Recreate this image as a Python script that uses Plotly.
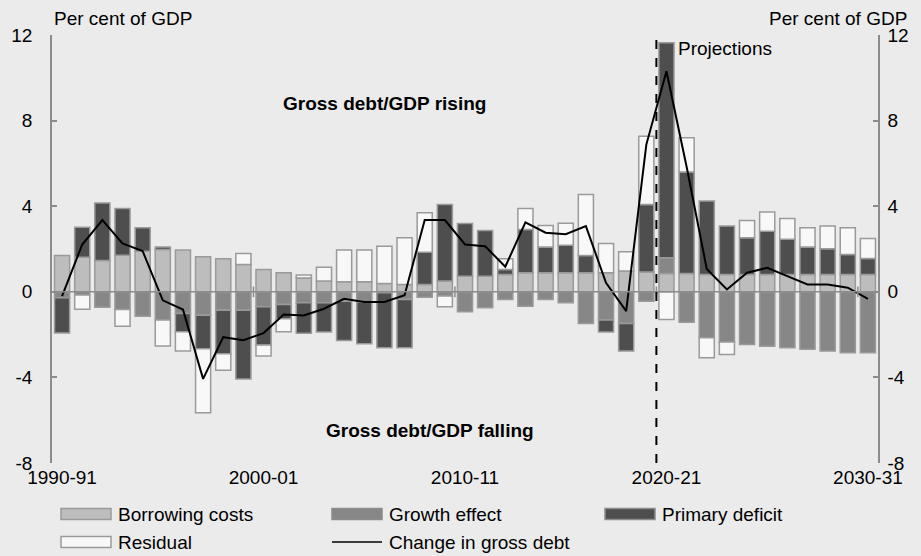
import plotly.graph_objects as go

# financial years 1990-91 .. 2030-31
years = [f"{y}-{str(y + 1)[-2:]}" for y in range(1990, 2031)]
tick_years = ["1990-91", "2000-01", "2010-11", "2020-21", "2030-31"]
first_projection = "2020-21"
y_ticks = [-8, -4, 0, 4, 8, 12]

# per cent of GDP
borrowing = [1.70, 1.62, 1.46, 1.71, 1.90, 1.98, 1.95, 1.64, 1.54, 1.28,
             1.04, 0.89, 0.65, 0.50, 0.47, 0.47, 0.39, 0.34, 0.34, 0.50,
             0.73, 0.73, 0.81, 0.89, 0.89, 0.89, 0.89, 0.89, 0.97, 0.93,
             0.86, 0.86, 0.81, 0.81, 0.81, 0.81, 0.81, 0.81, 0.81, 0.81, 0.81]
growth = [-0.28, -0.15, -0.72, -0.83, -1.14, -1.32, -1.01, -1.09, -0.86, -0.86,
          -0.70, -0.59, -0.51, -0.51, -0.44, -0.48, -0.05, -0.36, -0.25, -0.20,
          -0.93, -0.75, -0.36, -0.67, -0.36, -0.51, -1.48, -1.32, -1.48, -0.44,
          0.73, -1.42, -2.15, -2.35, -2.46, -2.54, -2.62, -2.69, -2.77, -2.85, -2.85]
primary = [-1.64, 1.40, 2.69, 2.18, 1.09, 0.11, -0.86, -1.57, -2.03, -3.21,
           -1.79, -0.67, -1.43, -1.37, -1.84, -1.95, -2.57, -2.26, 1.51, 3.58,
           2.46, 2.13, 0.23, 2.02, 1.20, 1.28, 0.81, -0.56, -1.29, 3.15,
           10.05, 4.74, 3.43, 2.26, 1.71, 2.02, 1.64, 1.28, 1.20, 0.93, 0.75]
residual = [None, -0.67, None, -0.78, None, -1.21, -0.90, -2.99, -0.78, 0.51,
            -0.51, -0.61, 0.14, 0.65, 1.48, 1.48, 1.74, 2.18, 1.84, -0.50,
            None, None, 0.51, 0.98, 1.01, 1.03, 2.85, 1.37, 0.90, 3.19,
            -1.29, 1.60, -0.93, -0.58, 0.81, 0.90, 0.97, 0.90, 1.06, 1.25, 0.93]
change = [-0.20, 2.21, 3.35, 2.26, 1.90, -0.40, -0.83, -4.07, -2.12, -2.26,
          -1.93, -1.06, -1.11, -0.79, -0.33, -0.48, -0.48, -0.16, 3.35, 3.35,
          2.21, 2.13, 1.17, 3.25, 2.76, 2.69, 3.07, 0.42, -0.90, 6.88,
          10.31, 5.84, 1.07, 0.11, 0.89, 1.12, 0.73, 0.34, 0.34, 0.19, -0.33]

FONT = "Liberation Sans, Arial, sans-serif"
BG = "#ebebeb"
AXIS = "#8c8c8c"
EDGE = "#9a9a9a"

# plot area in pixels (used for legend / label placement)
L, R, T, B = 52, 878, 35, 463
def xp(px):
    return (px - L) / (R - L)
def yp(py):
    return (B - py) / (B - T)

series = [
    ("Borrowing costs", borrowing, "#bdbdbd"),
    ("Growth effect", growth, "#878787"),
    ("Primary deficit", primary, "#4e4e4e"),
    ("Residual", residual, "#f8f8f8"),
]

fig = go.Figure()
for name, vals, col in series:
    fig.add_trace(go.Bar(x=years, y=vals, name=name, marker_color=col,
                         marker_line=dict(color=EDGE, width=1.5)))

fig.add_trace(go.Scatter(x=years, y=change, name="Change in gross debt", mode="lines",
                         line=dict(color="black", width=2), yaxis="y2"))

n = len(years)
x_range = [-0.5, n - 0.5]
proj_x = years.index(first_projection) - 0.5
y_text = [str(v) for v in y_ticks]

yax = dict(range=[-8, 12], tickmode="array", tickvals=y_ticks, ticktext=y_text,
           showgrid=False, zeroline=False,
           showline=True, linecolor=AXIS, linewidth=1.5,
           ticks="inside", ticklen=5, tickcolor=AXIS, tickwidth=1.5)

fig.update_layout(
    width=921, height=556,
    margin=dict(l=L, r=921 - R, t=T, b=556 - B),
    paper_bgcolor=BG, plot_bgcolor=BG,
    barmode="relative", bargap=0.25,
    showlegend=False,
    font=dict(family=FONT, size=19, color="black"),
    xaxis=dict(type="category", range=x_range, showline=False, showgrid=False,
               zeroline=False, tickmode="array", tickvals=tick_years, ticks="",
               ticklabelstandoff=1),
    yaxis=dict(yax, ticklabelstandoff=14),
    yaxis2=dict(yax, overlaying="y", side="right", ticklabelstandoff=4),
)

# category axis drawn at zero, over the bars, with marks between decades
fig.add_shape(type="line", xref="paper", yref="y", x0=0, x1=1, y0=0, y1=0,
              layer="above", line=dict(color=AXIS, width=1.5))
for t in tick_years[1:]:
    xm = years.index(t) - 0.5
    fig.add_shape(type="line", xref="x", yref="y", x0=xm, x1=xm, y0=-0.25, y1=0.25,
                  layer="above", line=dict(color=AXIS, width=1.5))

# projections divider
fig.add_shape(type="line", xref="x", yref="paper", x0=proj_x, x1=proj_x, y0=0, y1=1,
              line=dict(color="black", width=2, dash="dash"))

ann = [
    dict(text="Per cent of GDP", x=xp(52), y=yp(18), xanchor="left"),
    dict(text="Per cent of GDP", x=xp(909), y=yp(18), xanchor="right"),
    dict(text="<b>Gross debt/GDP rising</b>", x=xp(384), y=yp(103), xanchor="center"),
    dict(text="<b>Gross debt/GDP falling</b>", x=xp(430), y=yp(430), xanchor="center"),
]
for a in ann:
    fig.add_annotation(xref="paper", yref="paper", yanchor="middle", showarrow=False, **a)
fig.add_annotation(text="Projections", xref="x", yref="paper", x=proj_x, xshift=20,
                   y=yp(49), xanchor="left", yanchor="middle", showarrow=False)

# legend drawn by hand: 3 columns, 2 rows
legend_items = [
    ("Borrowing costs", "bar", "#bdbdbd", EDGE),
    ("Growth effect", "bar", "#878787", "#8c8c8c"),
    ("Primary deficit", "bar", "#4e4e4e", "#8c8c8c"),
    ("Residual", "bar", "#f8f8f8", EDGE),
    ("Change in gross debt", "line", "black", None),
]
cols = [61, 332, 605]
rows = [514, 542]
for k, (label, kind, fill, edge) in enumerate(legend_items):
    x0 = cols[k % 3]
    yc = rows[k // 3]
    if kind == "bar":
        fig.add_shape(type="rect", xref="paper", yref="paper",
                      x0=xp(x0), x1=xp(x0 + 50), y0=yp(yc + 5.5), y1=yp(yc - 5.5),
                      fillcolor=fill, line=dict(color=edge, width=1.5))
    else:
        fig.add_shape(type="line", xref="paper", yref="paper",
                      x0=xp(x0), x1=xp(x0 + 50), y0=yp(yc), y1=yp(yc),
                      line=dict(color=fill, width=1.5))
    fig.add_annotation(text=label, xref="paper", yref="paper", x=xp(x0 + 55), y=yp(yc),
                       xanchor="left", yanchor="middle", showarrow=False)

fig.write_html("out.html", config={"displayModeBar": False},
               post_script="document.body.style.margin='0px';")
